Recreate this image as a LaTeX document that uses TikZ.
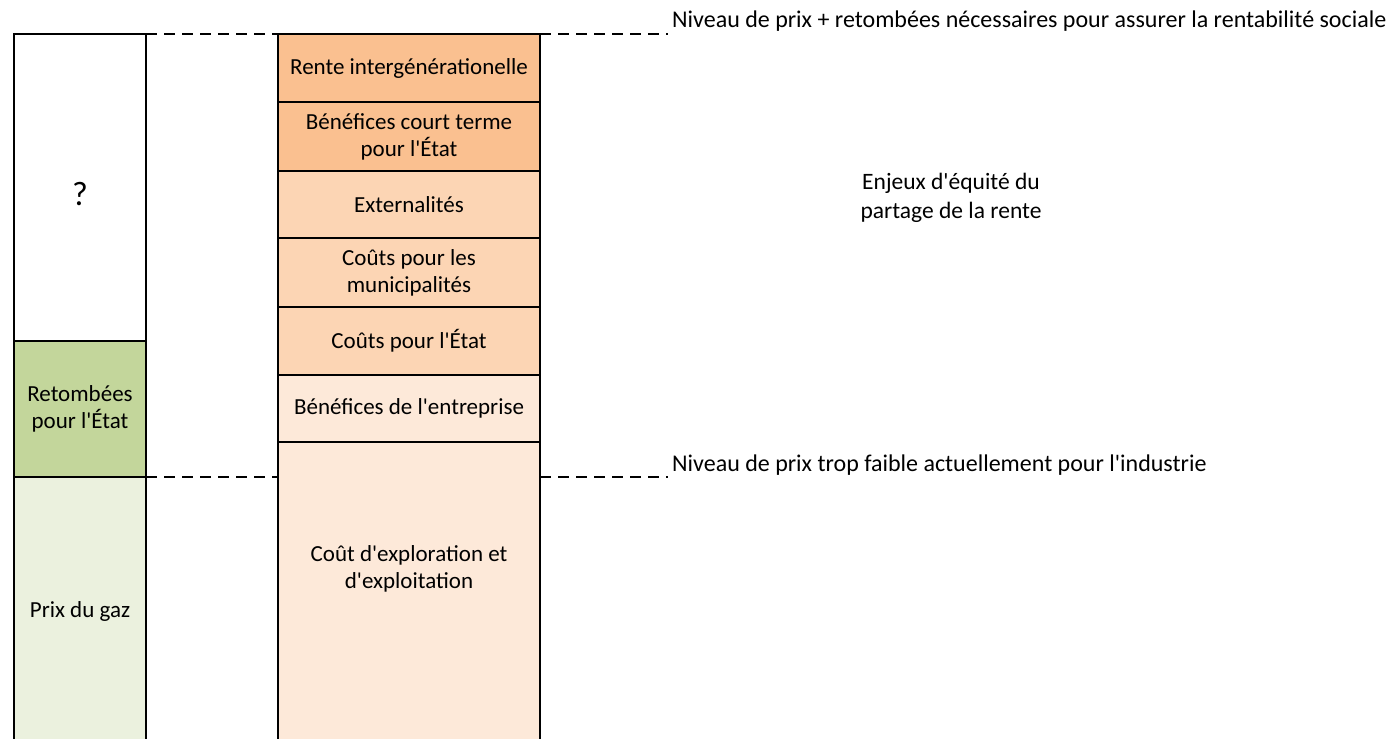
\documentclass[tikz,border=0pt]{standalone}
\usepackage{fontspec}
\setmainfont{Carlito}[Ligatures=TeXOff]
\usepackage{xcolor}
\usetikzlibrary{positioning}

\definecolor{orangeA}{HTML}{FAC090}
\definecolor{orangeB}{HTML}{FCD5B4}
\definecolor{orangeC}{HTML}{FDE9D9}
\definecolor{greenA}{HTML}{C3D69B}
\definecolor{greenB}{HTML}{EBF1DE}

\begin{document}
\begin{tikzpicture}[
    x=1pt, y=1pt,
    cell/.style={rectangle, draw, line width=2.2pt, minimum width=262pt, inner sep=0pt, outer sep=0pt, align=center, font=\fontsize{23}{27}\selectfont},
    side/.style={cell, minimum width=132pt},
    level/.style={dash pattern=on 11pt off 7pt, line width=2.6pt},
    note/.style={inner sep=0pt, font=\fontsize{23}{27}\selectfont}
]
    \useasboundingbox (0,0) rectangle (1393,739);

    % Center column
    \node[cell, fill=orangeA, minimum height=68pt, anchor=north] (rente) at (409,705) {Rente intergénérationelle};
    \node[cell, fill=orangeA, minimum height=69pt, below=0pt of rente] (benetat) {Bénéfices court terme\\pour l'État};
    \node[cell, fill=orangeB, minimum height=67pt, below=0pt of benetat] (extern) {Externalités};
    \node[cell, fill=orangeB, minimum height=69pt, below=0pt of extern] (municip) {Coûts pour les\\municipalités};
    \node[cell, fill=orangeB, minimum height=68pt, below=0pt of municip] (coutetat) {Coûts pour l'État};
    \node[cell, fill=orangeC, minimum height=67pt, below=0pt of coutetat] (benent) {Bénéfices de l'entreprise};
    \node[cell, fill=orangeC, minimum height=320pt, below=0pt of benent] (explo) {};
    \node[note, align=center] (explotxt) at (409,170) {Coût d'exploration et\\d'exploitation};

    % Left column
    \node[side, minimum height=307pt, anchor=north] (quest) at (80,705) {};
    \node[note, font=\fontsize{34}{40}\selectfont] (qmark) at (80,545) {?};
    \node[side, fill=greenA, minimum height=136pt, below=0pt of quest] (retomb) {Retombées\\pour l'État};
    \node[side, fill=greenB, minimum height=290pt, below=0pt of retomb] (gaz) {};
    \node[note] (gaztxt) at (80,128) {Prix du gaz};

    % Levels
    \coordinate[right=128pt of rente.north east] (hautfin);
    \coordinate (basfin) at (retomb.south -| hautfin);
    \draw[level] (quest.north east) -- (rente.north west);
    \draw[level] (rente.north east) -- (hautfin);
    \draw[level] (retomb.south east) -- (retomb.south -| explo.west);
    \draw[level] (retomb.south -| explo.east) -- (basfin);

    % Labels
    \node[note, font=\fontsize{24}{28}\selectfont, anchor=base west] (hautlbl) at (672,711) {Niveau de prix + retombées nécessaires pour assurer la rentabilité sociale};
    \node[note, font=\fontsize{24}{28}\selectfont, anchor=base west] (baslbl) at (672,267) {Niveau de prix trop faible actuellement pour l'industrie};
    \node[note, align=center, font=\fontsize{23.5}{29}\selectfont] (enjeux) at (951,541) {Enjeux d'équité du\\partage de la rente};

\end{tikzpicture}
\end{document}
